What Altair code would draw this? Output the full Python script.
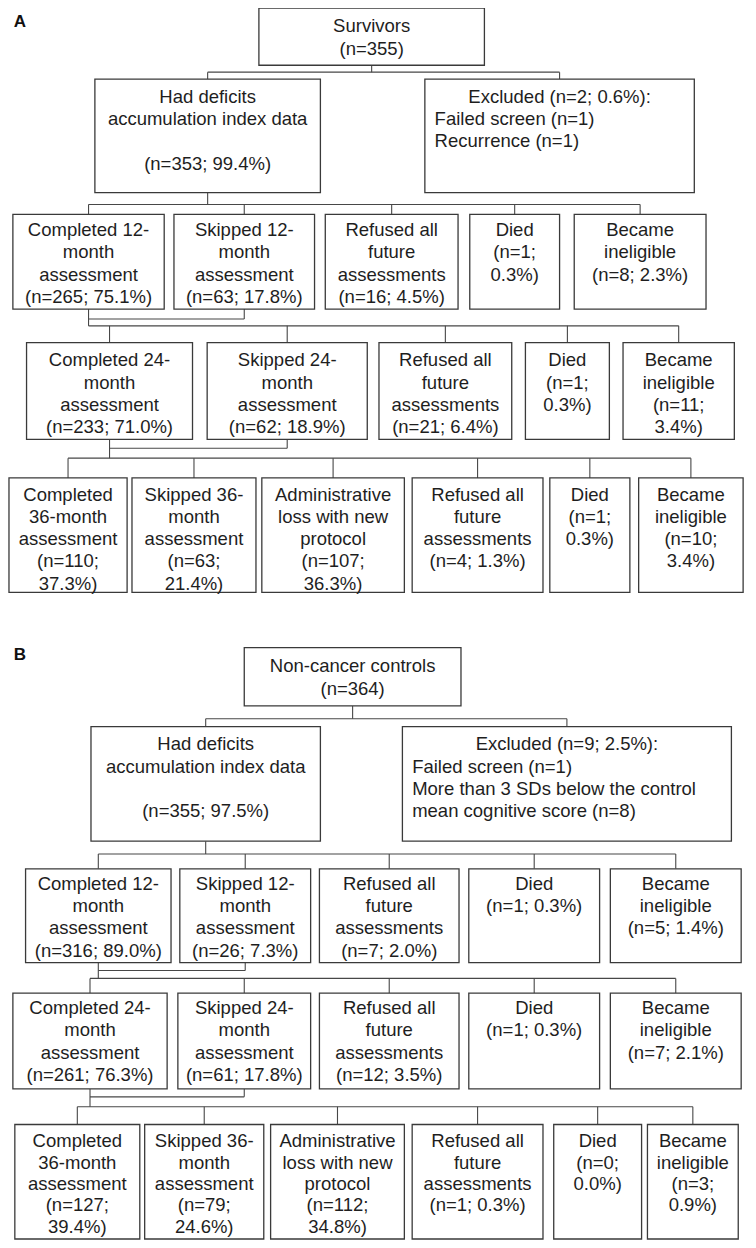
import altair as alt
import pandas as pd

FONT = "Liberation Sans"
FS = 18.5
LH = 22.6

# ---------------- values (panel A: survivors) ----------------
A_root_label, A_root_n = "Survivors", 355
A_kept_label = "Had deficits|accumulation index data"
A_kept_n, A_kept_pct = 353, 99.4
A_excl_n, A_excl_pct = 2, 0.6
A_excl_reasons = ["Failed screen", "Recurrence"]
A_excl_counts = [1, 1]

A12_labels = ["Completed 12-|month|assessment", "Skipped 12-|month|assessment",
              "Refused all|future|assessments", "Died", "Became|ineligible"]
A12_n = [265, 63, 16, 1, 8]
A12_pct = [75.1, 17.8, 4.5, 0.3, 2.3]
A12_split = [0, 0, 0, 1, 0]

A24_labels = ["Completed 24-|month|assessment", "Skipped 24-|month|assessment",
              "Refused all|future|assessments", "Died", "Became|ineligible"]
A24_n = [233, 62, 21, 1, 11]
A24_pct = [71.0, 18.9, 6.4, 0.3, 3.4]
A24_split = [0, 0, 0, 1, 1]

A36_labels = ["Completed|36-month|assessment", "Skipped 36-|month|assessment",
              "Administrative|loss with new|protocol", "Refused all|future|assessments",
              "Died", "Became|ineligible"]
A36_n = [110, 63, 107, 4, 1, 10]
A36_pct = [37.3, 21.4, 36.3, 1.3, 0.3, 3.4]
A36_split = [1, 1, 1, 0, 1, 1]

# ---------------- values (panel B: controls) ----------------
B_root_label, B_root_n = "Non-cancer controls", 364
B_kept_label = "Had deficits|accumulation index data"
B_kept_n, B_kept_pct = 355, 97.5
B_excl_n, B_excl_pct = 9, 2.5
B_excl_reasons = ["Failed screen", "More than 3 SDs below the control|mean cognitive score"]
B_excl_counts = [1, 8]

B12_labels = A12_labels
B12_n = [316, 26, 7, 1, 5]
B12_pct = [89.0, 7.3, 2.0, 0.3, 1.4]
B12_split = [0, 0, 0, 0, 0]

B24_labels = A24_labels
B24_n = [261, 61, 12, 1, 7]
B24_pct = [76.3, 17.8, 3.5, 0.3, 2.1]
B24_split = [0, 0, 0, 0, 0]

B36_labels = A36_labels
B36_n = [127, 79, 112, 1, 0, 3]
B36_pct = [39.4, 24.6, 34.8, 0.3, 0.0, 0.9]
B36_split = [1, 1, 1, 0, 1, 1]

# ---------------- layout (box edges, px in reference) ----------------
# y lists: [top, bottom, first text line, line height]
A_root_box = [256, 487, 0, 58, 18]
A_row1_x = [[88, 319], [426, 702]]
A_row1_y = [72, 187, 90, LH]
A12_x = [[4, 159], [169, 313], [324, 460], [472, 564], [579, 714]]
A12_y = [209, 305, 225, LH]
A24_x = [[18, 188], [203, 367], [379, 515], [529, 615], [629, 743]]
A24_y = [339, 437, 357, LH]
A36_x = [[0, 121], [126, 253], [259, 405], [413, 547], [554, 636], [645, 752]]
A36_y = [476, 592, 493, 22.5]
A_bars = [65, 199, 315, 322, 446, 456]

B_root_box = [241, 463, 648, 707, 667]
B_row1_x = [[84, 319], [403, 740]]
B_row1_y = [728, 844, 746, LH]
B12_x = [[17, 166], [175, 309], [318, 461], [471, 605], [616, 750]]
B12_y = [872, 967, 887, LH]
B24_x = [[4, 162], [173, 309], [318, 461], [471, 605], [616, 750]]
B24_y = [998, 1095, 1013, LH]
B36_x = [[6, 134], [139, 261], [268, 405], [413, 547], [558, 648], [654, 747]]
B36_y = [1131, 1247, 1148, 21.6]
B_bars = [720, 857, 975, 983, 1103, 1113]

rects, rules, ctext, ltext = [], [], [], []


def count_lines(n, pct, split):
    p = f"{pct:.1f}%)"
    return [f"(n={n};", p] if split else [f"(n={n}; {p}"]


def add_box(x0, x1, y0, y1):
    rects.append(dict(x=x0, x2=x1, y=y0, y2=y1))


def add_center_lines(lines, cx, start, lh=LH):
    for i, t in enumerate(lines):
        if t:
            ctext.append(dict(x=cx, y=start + i * lh, text=t))


def add_row(xs, ys, labels, ns, pcts, splits):
    for (x0, x1), lab, n, p, s in zip(xs, labels, ns, pcts, splits):
        add_box(x0, x1, ys[0], ys[1])
        add_center_lines(lab.split("|") + count_lines(n, p, s), (x0 + x1) / 2, ys[2], ys[3])


def seg(x, y, x2, y2):
    rules.append(dict(x=x, y=y, x2=x2, y2=y2))


def fan(tx, y_from, bar_y, child_xs, child_top):
    cs = [(a + b) / 2 for a, b in child_xs]
    seg(tx, y_from, tx, bar_y)
    seg(min(cs + [tx]), bar_y, max(cs + [tx]), bar_y)
    for c in cs:
        seg(c, bar_y, c, child_top)


def join(tx, sx, bottom, jy):
    seg(tx, jy, sx, jy)
    seg(sx, bottom, sx, jy)


def panel(root_box, root_label, root_n, row1_x, row1_y, kept_label, kept_n, kept_pct,
          excl_n, excl_pct, excl_reasons, excl_counts, rows, bars):
    rx0, rx1, ry0, ry1, rst = root_box
    add_box(rx0, rx1, ry0, ry1)
    add_center_lines([root_label, f"(n={root_n})"], (rx0 + rx1) / 2, rst, 23.3)
    # row 1
    (kx0, kx1), (ex0, ex1) = row1_x
    add_box(kx0, kx1, row1_y[0], row1_y[1])
    add_box(ex0, ex1, row1_y[0], row1_y[1])
    add_center_lines(kept_label.split("|") + ["", f"(n={kept_n}; {kept_pct:.1f}%)"],
                     (kx0 + kx1) / 2, row1_y[2], row1_y[3])
    add_center_lines([f"Excluded (n={excl_n}; {excl_pct:.1f}%):"], (ex0 + ex1) / 2, row1_y[2])
    items = []
    for r, c in zip(excl_reasons, excl_counts):
        parts = r.split("|")
        parts[-1] = parts[-1] + f" (n={c})"
        items += parts
    for i, t in enumerate(items):
        ltext.append(dict(x=ex0 + 10, y=row1_y[2] + (i + 1) * row1_y[3], text=t))
    fan((rx0 + rx1) / 2, ry1, bars[0], row1_x, row1_y[0])
    # assessment rows
    for r in rows:
        add_row(*r)
    r12, r24, r36 = rows
    fan((kx0 + kx1) / 2, row1_y[1], bars[1], r12[0], r12[1][0])
    c12 = (r12[0][0][0] + r12[0][0][1]) / 2
    s12 = (r12[0][1][0] + r12[0][1][1]) / 2
    join(c12, s12, r12[1][1], bars[2])
    fan(c12, r12[1][1], bars[3], r24[0], r24[1][0])
    c24 = (r24[0][0][0] + r24[0][0][1]) / 2
    s24 = (r24[0][1][0] + r24[0][1][1]) / 2
    join(c24, s24, r24[1][1], bars[4])
    fan(c24, r24[1][1], bars[5], r36[0], r36[1][0])


panel(A_root_box, A_root_label, A_root_n, A_row1_x, A_row1_y, A_kept_label, A_kept_n, A_kept_pct,
      A_excl_n, A_excl_pct, A_excl_reasons, A_excl_counts,
      [(A12_x, A12_y, A12_labels, A12_n, A12_pct, A12_split),
       (A24_x, A24_y, A24_labels, A24_n, A24_pct, A24_split),
       (A36_x, A36_y, A36_labels, A36_n, A36_pct, A36_split)], A_bars)
panel(B_root_box, B_root_label, B_root_n, B_row1_x, B_row1_y, B_kept_label, B_kept_n, B_kept_pct,
      B_excl_n, B_excl_pct, B_excl_reasons, B_excl_counts,
      [(B12_x, B12_y, B12_labels, B12_n, B12_pct, B12_split),
       (B24_x, B24_y, B24_labels, B24_n, B24_pct, B24_split),
       (B36_x, B36_y, B36_labels, B36_n, B36_pct, B36_split)], B_bars)

panel_labels = pd.DataFrame({"x": [5, 5], "y": [14, 655], "text": ["A", "B"]})

xs = alt.Scale(domain=[-1, 757], nice=False, zero=False)
ys = alt.Scale(domain=[0, 1248], nice=False, zero=False, reverse=True)
X = alt.X("x:Q", scale=xs, axis=None)
Y = alt.Y("y:Q", scale=ys, axis=None)

rule_layer = alt.Chart(pd.DataFrame(rules)).mark_rule(
    color="#474747", strokeWidth=1.1
).encode(x=X, y=Y, x2="x2:Q", y2="y2:Q")

rect_layer = alt.Chart(pd.DataFrame(rects)).mark_rect(
    fill="white", stroke="#3a3a3a", strokeWidth=1.3
).encode(x=X, y=Y, x2="x2:Q", y2="y2:Q")

center_layer = alt.Chart(pd.DataFrame(ctext)).mark_text(
    font=FONT, fontSize=FS, color="#1e1e1e", align="center", baseline="middle"
).encode(x=X, y=Y, text="text:N")

left_layer = alt.Chart(pd.DataFrame(ltext)).mark_text(
    font=FONT, fontSize=FS, color="#1e1e1e", align="left", baseline="middle"
).encode(x=X, y=Y, text="text:N")

label_layer = alt.Chart(panel_labels).mark_text(
    font=FONT, fontSize=17, fontWeight="bold", color="#111111", align="left", baseline="middle"
).encode(x=X, y=Y, text="text:N")

chart = alt.layer(rule_layer, rect_layer, center_layer, left_layer, label_layer).properties(
    width=740, height=1232, padding=0, autosize=alt.AutoSizeParams(type="none"),
    background="white"
).configure_view(stroke=None)

chart.save("out.html", embed_options={"renderer": "svg", "actions": False})
